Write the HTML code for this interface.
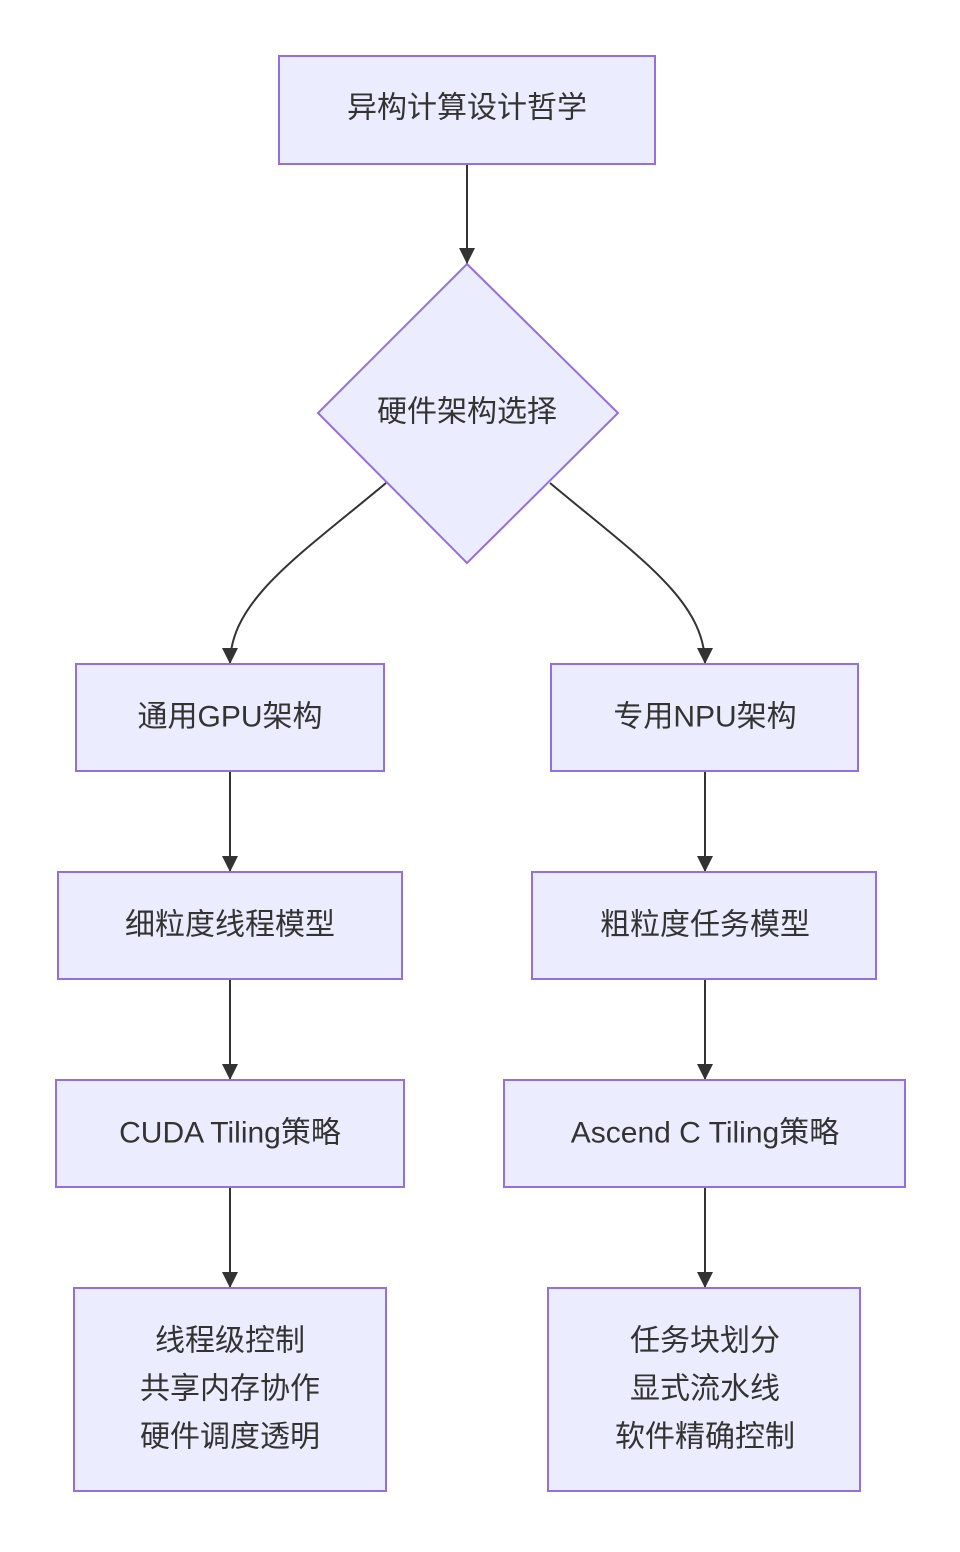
<!DOCTYPE html>
<html><head><meta charset="utf-8"><style>
html,body{margin:0;padding:0;background:#fff;}
svg text{font-family:"Liberation Sans","Noto Sans CJK SC",sans-serif;font-size:30px;fill:#333;text-anchor:middle;dominant-baseline:central;}
</style></head><body>
<svg width="960" height="1547" viewBox="0 0 960 1547" xmlns="http://www.w3.org/2000/svg">
<defs><marker id="a" viewBox="0 0 10 10" refX="9" refY="5" markerWidth="8" markerHeight="8" markerUnits="userSpaceOnUse" orient="auto"><path d="M0,0L10,5L0,10z" fill="#333"/></marker>
<marker id="b" viewBox="0 0 10 10" refX="10" refY="5" markerWidth="16" markerHeight="16" markerUnits="userSpaceOnUse" orient="auto"><path d="M0,0L10,5L0,10z" fill="#333"/></marker></defs>
<g fill="none" stroke="#333" stroke-width="2" marker-end="url(#b)">
<path d="M467,164V264"/>
<path d="M386,483C300,555 230,600 230,664"/>
<path d="M550,483C636,555 705,600 705,664"/>
<path d="M230,771V872"/><path d="M705,771V872"/>
<path d="M230,979V1080"/><path d="M705,979V1080"/>
<path d="M230,1187V1288"/><path d="M705,1187V1288"/>
</g>
<g fill="#ECECFF" stroke="#9370DB" stroke-width="2">
<rect x="279" y="56" width="376" height="108"/>
<path d="M467,264L618,413L467,563L318,413Z"/>
<rect x="76" y="664" width="308" height="107"/>
<rect x="551" y="664" width="307" height="107"/>
<rect x="58" y="872" width="344" height="107"/>
<rect x="532" y="872" width="344" height="107"/>
<rect x="56" y="1080" width="348" height="107"/>
<rect x="504" y="1080" width="401" height="107"/>
<rect x="74" y="1288" width="312" height="203"/>
<rect x="548" y="1288" width="312" height="203"/>
</g>
<text x="467" y="108">异构计算设计哲学</text>
<text x="467" y="412">硬件架构选择</text>
<text x="230" y="717">通用GPU架构</text>
<text x="705" y="717">专用NPU架构</text>
<text x="230" y="925">细粒度线程模型</text>
<text x="705" y="925">粗粒度任务模型</text>
<text x="230" y="1133">CUDA Tiling策略</text>
<text x="705" y="1133">Ascend C Tiling策略</text>
<text x="230" y="1341">线程级控制</text>
<text x="230" y="1389">共享内存协作</text>
<text x="230" y="1437">硬件调度透明</text>
<text x="705" y="1341">任务块划分</text>
<text x="705" y="1389">显式流水线</text>
<text x="705" y="1437">软件精确控制</text>
</svg>
</body></html>
